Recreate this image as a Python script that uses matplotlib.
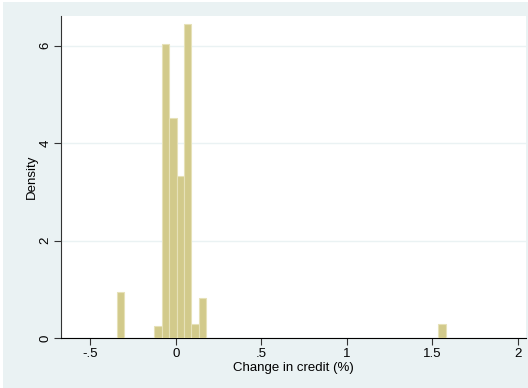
import matplotlib.pyplot as plt
from matplotlib.patches import Rectangle

plt.rcParams['font.family'] = ['Liberation Sans', 'DejaVu Sans']

# histogram bins (left edges) and densities
bin_width = 0.0437
bin_left = [-0.346, -0.127, -0.083, -0.040, 0.004, 0.047, 0.091, 0.135, 1.535]
density = [0.94, 0.25, 6.04, 4.51, 3.33, 6.45, 0.29, 0.82, 0.28]

xticks = [-0.5, 0, 0.5, 1, 1.5, 2]
xtick_labels = ['-.5', '0', '.5', '1', '1.5', '2']
yticks = [0, 2, 4, 6]

bg = '#EAF2F3'

fig = plt.figure(figsize=(5.28, 3.88), dpi=100, facecolor='white')
fig.patches.append(Rectangle((3 / 528, 0), 1, 1 - 2 / 388, transform=fig.transFigure,
                             facecolor=bg, edgecolor='none', zorder=-10))
ax = fig.add_axes([61 / 528, 50 / 388, 465 / 528, 322 / 388])
ax.set_facecolor('white')

ax.bar(bin_left, density, width=bin_width, align='edge',
       facecolor='#D2CA8B', edgecolor='#E6E1B8', linewidth=0.8, zorder=3)

ax.set_xlim(-0.672, 2.047)
ax.set_ylim(0, 6.61)

ax.set_xticks(xticks)
ax.set_xticklabels(xtick_labels)
ax.set_yticks(yticks)
ax.set_yticklabels([str(v) for v in yticks], rotation=90, va='center')
ax.tick_params(axis='both', direction='out', length=5, width=0.8,
               color='#333333', labelsize=9.5, pad=2)

ax.grid(axis='y', color=bg, linewidth=1, zorder=1)
ax.set_axisbelow(True)

for side in ['top', 'right']:
    ax.spines[side].set_visible(False)
ax.spines['left'].set_color('#333333')
ax.spines['bottom'].set_color('#000000')
ax.spines['left'].set_linewidth(0.8)
ax.spines['bottom'].set_linewidth(0.8)

ax.set_xlabel('Change in credit (%)', fontsize=9.5, labelpad=2)
ax.set_ylabel('Density', fontsize=9.5, labelpad=1)

plt.savefig('out.png', dpi=100, facecolor=fig.get_facecolor())
